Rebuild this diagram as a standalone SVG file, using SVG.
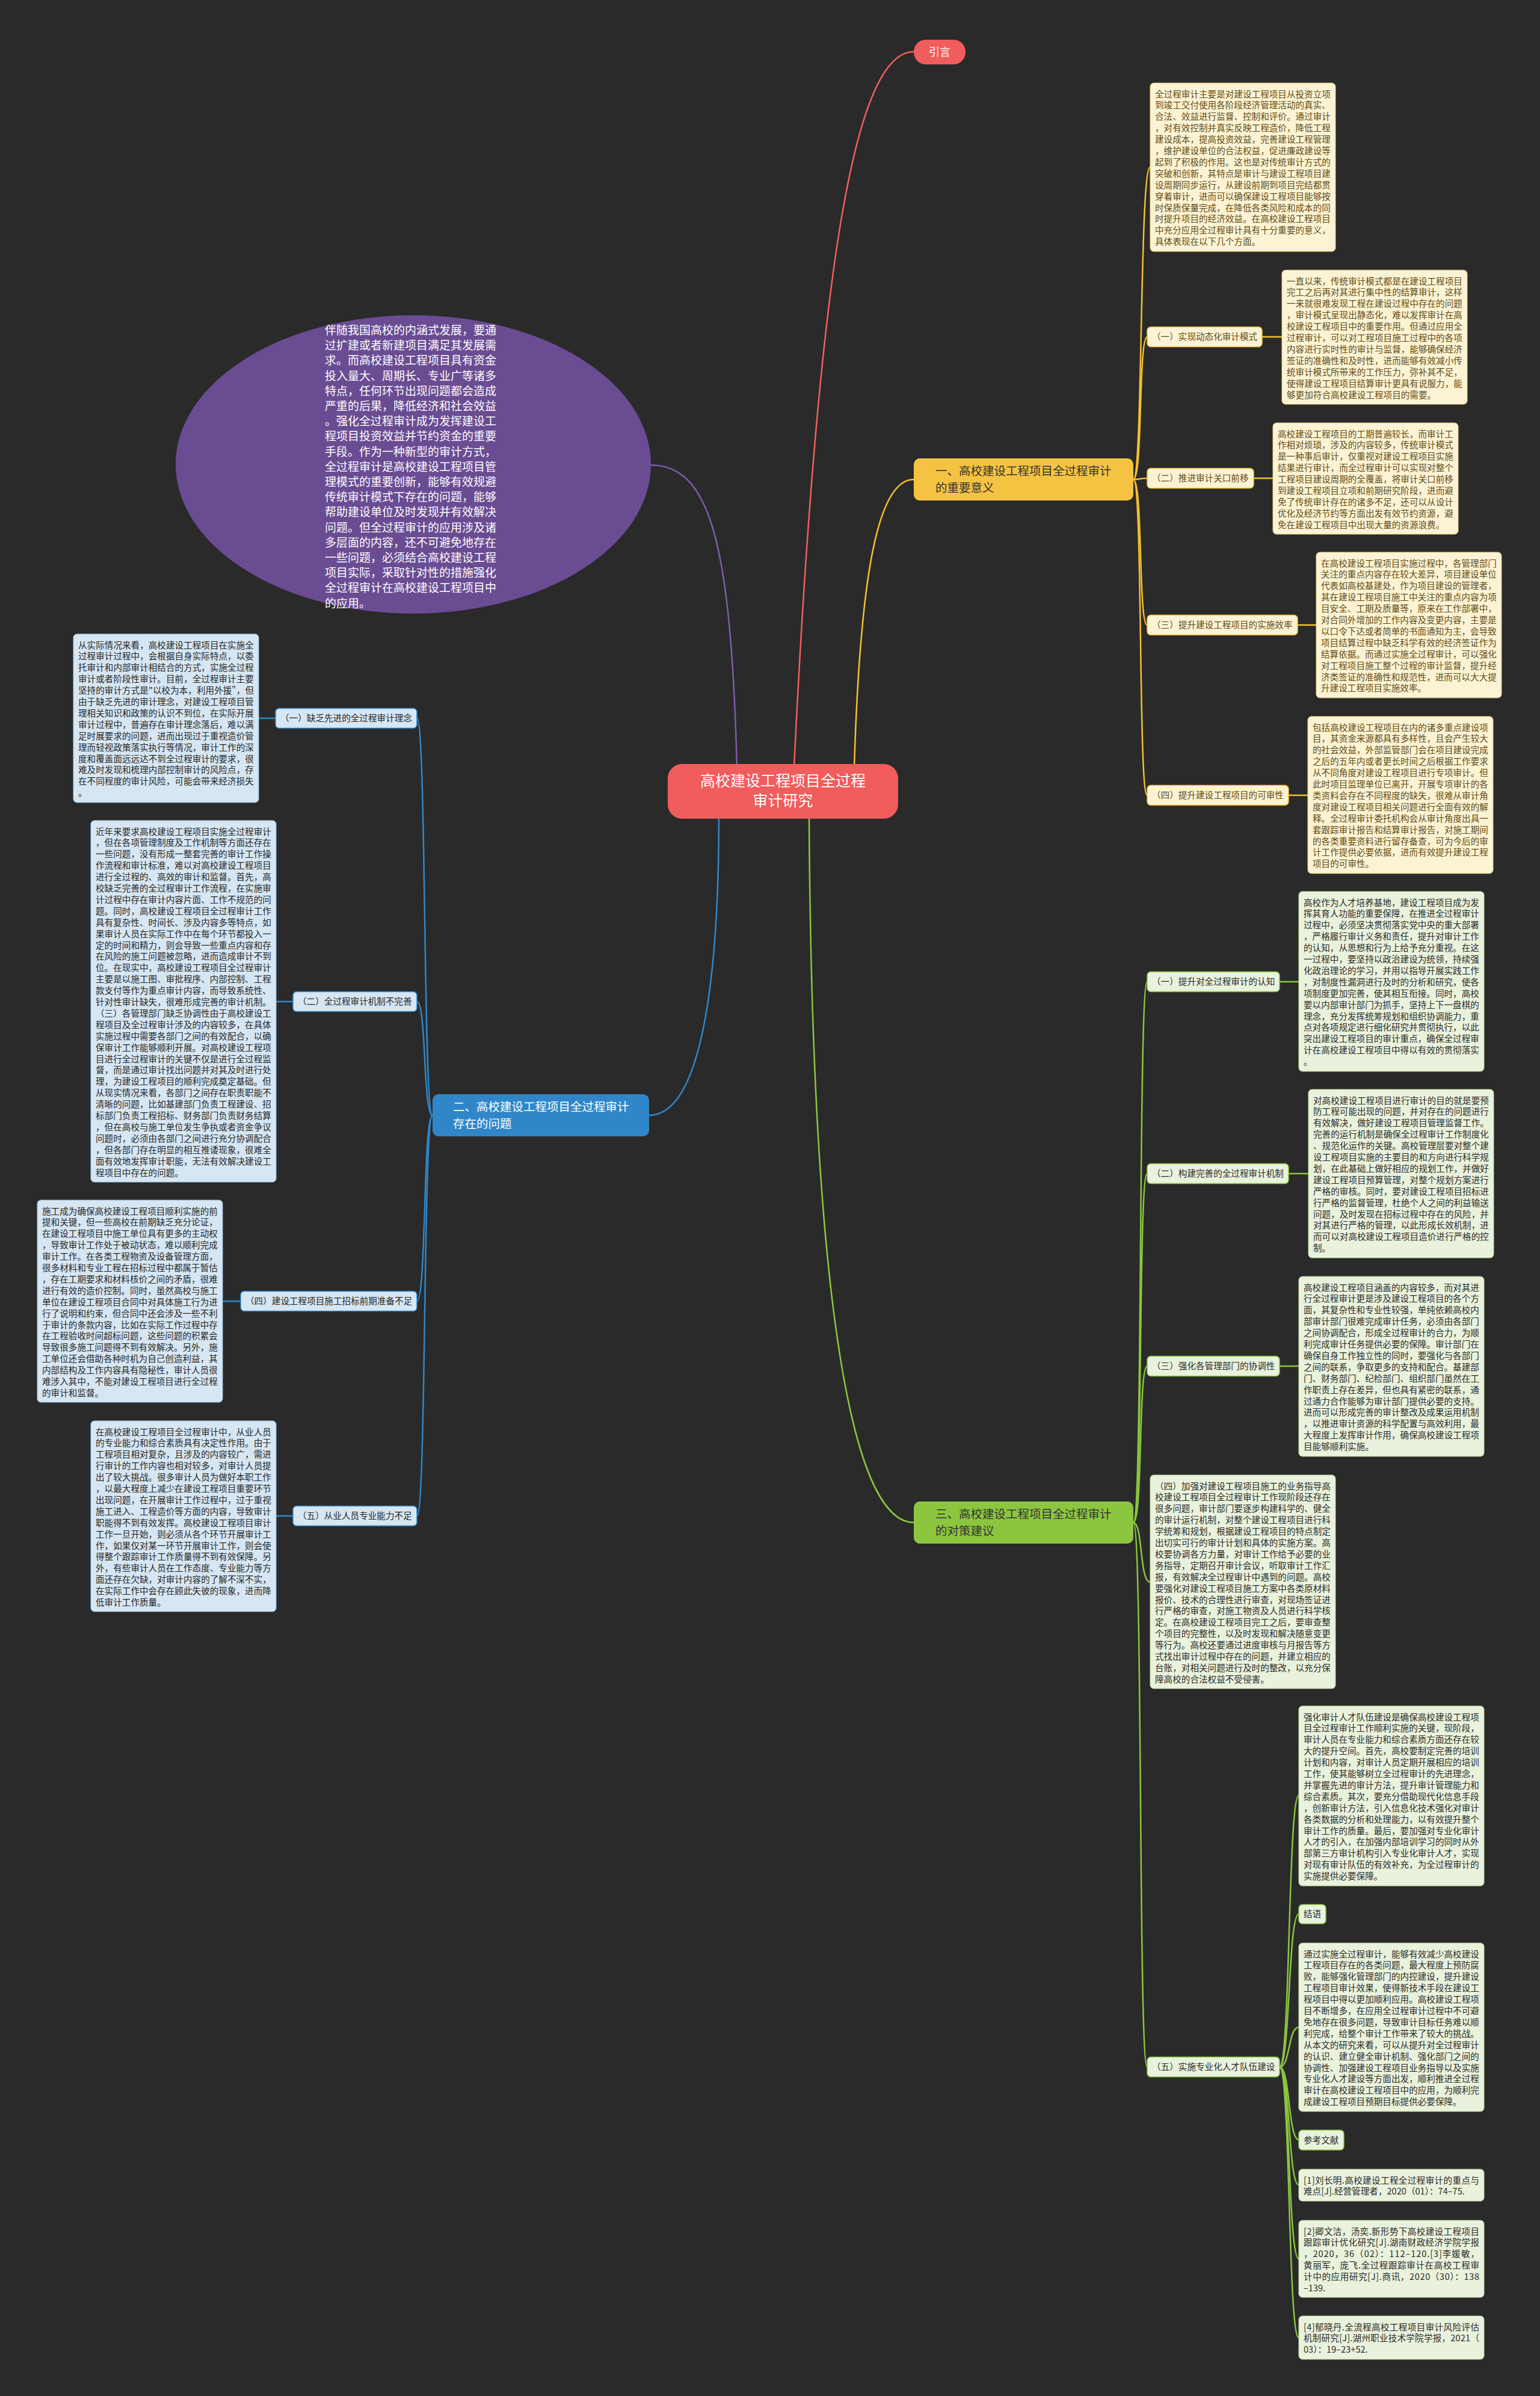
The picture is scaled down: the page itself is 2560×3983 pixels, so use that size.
<svg xmlns="http://www.w3.org/2000/svg" width="2560" height="3983" viewBox="0 0 2560 3983">
<style>
.tx{font-family:"Noto Sans CJK SC","Noto Sans",sans-serif;font-size:14.6px}
.t1{fill:#5f4b14}.t2{fill:#262626}.t3{fill:#2a2a2a}
.b1{fill:#fcf3d4;stroke:#e9cf7c;stroke-width:1}
.b2{fill:#d6e6f3;stroke:#9fc4e4;stroke-width:1}
.b3{fill:#e9f2dc;stroke:#bcd896;stroke-width:1}
.l1{fill:#fcf3d4;stroke:#f2c12e;stroke-width:1.5}
.l2{fill:#d6e6f3;stroke:#2f87c9;stroke-width:1.5}
.l3{fill:#e9f2dc;stroke:#8cc63f;stroke-width:1.5}
.br{font-family:"Noto Sans CJK SC","Noto Sans",sans-serif;font-size:19.5px}
.c{fill:none;stroke-width:2.5}
</style>
<rect width="2560" height="3983" fill="#2a2a2a"/>
<g id="connectors">
<path class="c" stroke="#f0605d" stroke-width="3" d="M1320 1275 C1360 450 1420 86 1519 86"/>
<path class="c" stroke="#f2c12e" stroke-width="3" d="M1420 1275 C1430 950 1460 797 1519 797"/>
<path class="c" stroke="#7d5ca8" stroke-width="3" d="M1081 773 C1180 773 1215 900 1225 1275"/>
<path class="c" stroke="#2f87c9" stroke-width="3" d="M1195 1355 C1195 1700 1150 1854 1079 1854"/>
<path class="c" stroke="#8cc63f" stroke-width="3" d="M1345 1355 C1350 2250 1430 2531 1519 2531"/>
<g stroke="#f2c12e">
<path class="c" d="M1884 797 C1900 797 1894 278 1912 278"/>
<path class="c" d="M1884 797 C1900 797 1892 560 1907 560"/>
<path class="c" d="M1884 797 C1898 797 1893 795 1907 795"/>
<path class="c" d="M1884 797 C1900 797 1892 1039 1907 1039"/>
<path class="c" d="M1884 797 C1900 797 1892 1322 1907 1322"/>
<path class="c" d="M2098 560 H2131 M2084 795 H2116 M2157 1039 H2188 M2142 1322 H2174"/>
</g>
<g stroke="#2f87c9">
<path class="c" d="M719 1854 C703 1854 709 1194 693 1194"/>
<path class="c" d="M719 1854 C703 1854 709 1665 693 1665"/>
<path class="c" d="M719 1854 C703 1854 709 2163 693 2163"/>
<path class="c" d="M719 1854 C703 1854 709 2520 693 2520"/>
<path class="c" d="M458 1194 H430 M487 1665 H459 M400 2163 H370 M487 2520 H459"/>
</g>
<g stroke="#8cc63f">
<path class="c" d="M1884 2531 C1900 2531 1892 1632 1907 1632"/>
<path class="c" d="M1884 2531 C1900 2531 1892 1951 1907 1951"/>
<path class="c" d="M1884 2531 C1900 2531 1892 2271 1907 2271"/>
<path class="c" d="M1884 2531 C1900 2531 1894 2630 1912 2630"/>
<path class="c" d="M1884 2531 C1900 2531 1892 3436 1907 3436"/>
<path class="c" d="M2127 1632 H2159 M2142 1951 H2175 M2127 2271 H2159"/>
<path class="c" d="M2127 3436 C2145 3436 2141 2985 2159 2985"/>
<path class="c" d="M2127 3436 C2145 3436 2141 3182 2159 3182"/>
<path class="c" d="M2127 3436 C2145 3436 2141 3370 2159 3370"/>
<path class="c" d="M2127 3436 C2145 3436 2141 3557 2159 3557"/>
<path class="c" d="M2127 3436 C2145 3436 2141 3632 2159 3632"/>
<path class="c" d="M2127 3436 C2145 3436 2141 3755 2159 3755"/>
<path class="c" d="M2127 3436 C2145 3436 2141 3886 2159 3886"/>
</g>
</g>

<g id="center">
<rect x="1110" y="1270" width="383" height="91" rx="24" fill="#f15c5c"/>
<text x="1301.5" y="1307" text-anchor="middle" font-family="Noto Sans CJK SC,Noto Sans,sans-serif" font-size="25" fill="#fff"><tspan x="1301.5">高校建设工程项目全过程</tspan><tspan x="1301.5" dy="33">审计研究</tspan></text>
</g>

<g id="intro">
<rect x="1519" y="66" width="86" height="41" rx="20" fill="#f15c5c"/>
<text x="1562" y="92.5" text-anchor="middle" font-family="Noto Sans CJK SC,Noto Sans,sans-serif" font-size="18" fill="#fff">引言</text>
</g>

<g id="preface">
<ellipse cx="687" cy="772" rx="395" ry="248" fill="#6a4c93"/>
<text x="540" y="556" font-family="Noto Sans CJK SC,Noto Sans,sans-serif" font-size="19" fill="#fff">
<tspan x="540">伴随我国高校的内涵式发展，要通</tspan>
<tspan x="540" dy="25.2">过扩建或者新建项目满足其发展需</tspan>
<tspan x="540" dy="25.2">求。而高校建设工程项目具有资金</tspan>
<tspan x="540" dy="25.2">投入量大、周期长、专业广等诸多</tspan>
<tspan x="540" dy="25.2">特点，任何环节出现问题都会造成</tspan>
<tspan x="540" dy="25.2">严重的后果，降低经济和社会效益</tspan>
<tspan x="540" dy="25.2">。强化全过程审计成为发挥建设工</tspan>
<tspan x="540" dy="25.2">程项目投资效益并节约资金的重要</tspan>
<tspan x="540" dy="25.2">手段。作为一种新型的审计方式，</tspan>
<tspan x="540" dy="25.2">全过程审计是高校建设工程项目管</tspan>
<tspan x="540" dy="25.2">理模式的重要创新，能够有效规避</tspan>
<tspan x="540" dy="25.2">传统审计模式下存在的问题，能够</tspan>
<tspan x="540" dy="25.2">帮助建设单位及时发现并有效解决</tspan>
<tspan x="540" dy="25.2">问题。但全过程审计的应用涉及诸</tspan>
<tspan x="540" dy="25.2">多层面的内容，还不可避免地存在</tspan>
<tspan x="540" dy="25.2">一些问题，必须结合高校建设工程</tspan>
<tspan x="540" dy="25.2">项目实际，采取针对性的措施强化</tspan>
<tspan x="540" dy="25.2">全过程审计在高校建设工程项目中</tspan>
<tspan x="540" dy="25.2">的应用。</tspan>
</text>
</g>

<!-- Section 1 -->
<g id="branch1">
<rect x="1519" y="762" width="365" height="70" rx="10" fill="#f5c342"/>
<text class="br" x="1555" y="790" fill="#333"><tspan x="1555">一、高校建设工程项目全过程审计</tspan><tspan x="1555" dy="28">的重要意义</tspan></text>
</g>
<g id="s1-intro">
<rect class="b1" x="1912" y="138" width="308" height="280" rx="6"/>
<text class="tx t1" x="1920" y="161.5">
<tspan x="1920">全过程审计主要是对建设工程项目从投资立项</tspan>
<tspan x="1920" dy="18.9">到竣工交付使用各阶段经济管理活动的真实、</tspan>
<tspan x="1920" dy="18.9">合法、效益进行监督、控制和评价。通过审计</tspan>
<tspan x="1920" dy="18.9">，对有效控制并真实反映工程造价，降低工程</tspan>
<tspan x="1920" dy="18.9">建设成本，提高投资效益，完善建设工程管理</tspan>
<tspan x="1920" dy="18.9">，维护建设单位的合法权益，促进廉政建设等</tspan>
<tspan x="1920" dy="18.9">起到了积极的作用。这也是对传统审计方式的</tspan>
<tspan x="1920" dy="18.9">突破和创新，其特点是审计与建设工程项目建</tspan>
<tspan x="1920" dy="18.9">设周期同步运行，从建设前期到项目完结都贯</tspan>
<tspan x="1920" dy="18.9">穿着审计，进而可以确保建设工程项目能够按</tspan>
<tspan x="1920" dy="18.9">时保质保量完成，在降低各类风险和成本的同</tspan>
<tspan x="1920" dy="18.9">时提升项目的经济效益。在高校建设工程项目</tspan>
<tspan x="1920" dy="18.9">中充分应用全过程审计具有十分重要的意义，</tspan>
<tspan x="1920" dy="18.9">具体表现在以下几个方面。</tspan>
</text>
</g>
<g id="s1-1">
<rect class="l1" x="1907" y="543.5" width="191" height="33" rx="6"/>
<text class="tx t1" x="1915" y="565.3">（一）实现动态化审计模式</text>
<rect class="b1" x="2131" y="449" width="308" height="223" rx="6"/>
<text class="tx t1" x="2139" y="472.5">
<tspan x="2139">一直以来，传统审计模式都是在建设工程项目</tspan>
<tspan x="2139" dy="18.9">完工之后再对其进行集中性的结算审计，这样</tspan>
<tspan x="2139" dy="18.9">一来就很难发现工程在建设过程中存在的问题</tspan>
<tspan x="2139" dy="18.9">，审计模式呈现出静态化，难以发挥审计在高</tspan>
<tspan x="2139" dy="18.9">校建设工程项目中的重要作用。但通过应用全</tspan>
<tspan x="2139" dy="18.9">过程审计，可以对工程项目施工过程中的各项</tspan>
<tspan x="2139" dy="18.9">内容进行实时性的审计与监督，能够确保经济</tspan>
<tspan x="2139" dy="18.9">签证的准确性和及时性，进而能够有效减小传</tspan>
<tspan x="2139" dy="18.9">统审计模式所带来的工作压力，弥补其不足，</tspan>
<tspan x="2139" dy="18.9">使得建设工程项目结算审计更具有说服力，能</tspan>
<tspan x="2139" dy="18.9">够更加符合高校建设工程项目的需要。</tspan>
</text>
</g>
<g id="s1-2">
<rect class="l1" x="1907" y="778.5" width="177" height="33" rx="6"/>
<text class="tx t1" x="1915" y="800.3">（二）推进审计关口前移</text>
<rect class="b1" x="2116" y="703" width="308" height="185" rx="6"/>
<text class="tx t1" x="2124" y="726.5">
<tspan x="2124">高校建设工程项目的工期普遍较长，而审计工</tspan>
<tspan x="2124" dy="18.9">作相对烦琐，涉及的内容较多，传统审计模式</tspan>
<tspan x="2124" dy="18.9">是一种事后审计，仅重视对建设工程项目实施</tspan>
<tspan x="2124" dy="18.9">结果进行审计，而全过程审计可以实现对整个</tspan>
<tspan x="2124" dy="18.9">工程项目建设周期的全覆盖，将审计关口前移</tspan>
<tspan x="2124" dy="18.9">到建设工程项目立项和前期研究阶段，进而避</tspan>
<tspan x="2124" dy="18.9">免了传统审计存在的诸多不足，还可以从设计</tspan>
<tspan x="2124" dy="18.9">优化及经济节约等方面出发有效节约资源，避</tspan>
<tspan x="2124" dy="18.9">免在建设工程项目中出现大量的资源浪费。</tspan>
</text>
</g>
<g id="s1-3">
<rect class="l1" x="1907" y="1022.5" width="250" height="33" rx="6"/>
<text class="tx t1" x="1915" y="1044.3">（三）提升建设工程项目的实施效率</text>
<rect class="b1" x="2188" y="918" width="308" height="242" rx="6"/>
<text class="tx t1" x="2196" y="941.5">
<tspan x="2196">在高校建设工程项目实施过程中，各管理部门</tspan>
<tspan x="2196" dy="18.9">关注的重点内容存在较大差异，项目建设单位</tspan>
<tspan x="2196" dy="18.9">代表如高校基建处，作为项目建设的管理者，</tspan>
<tspan x="2196" dy="18.9">其在建设工程项目施工中关注的重点内容为项</tspan>
<tspan x="2196" dy="18.9">目安全、工期及质量等，原来在工作部署中，</tspan>
<tspan x="2196" dy="18.9">对合同外增加的工作内容及变更内容，主要是</tspan>
<tspan x="2196" dy="18.9">以口令下达或者简单的书面通知为主，会导致</tspan>
<tspan x="2196" dy="18.9">项目结算过程中缺乏科学有效的经济签证作为</tspan>
<tspan x="2196" dy="18.9">结算依据。而通过实施全过程审计，可以强化</tspan>
<tspan x="2196" dy="18.9">对工程项目施工整个过程的审计监督，提升经</tspan>
<tspan x="2196" dy="18.9">济类签证的准确性和规范性，进而可以大大提</tspan>
<tspan x="2196" dy="18.9">升建设工程项目实施效率。</tspan>
</text>
</g>
<g id="s1-4">
<rect class="l1" x="1907" y="1305.5" width="235" height="33" rx="6"/>
<text class="tx t1" x="1915" y="1327.3">（四）提升建设工程项目的可审性</text>
<rect class="b1" x="2174" y="1191" width="308" height="261" rx="6"/>
<text class="tx t1" x="2182" y="1214.5">
<tspan x="2182">包括高校建设工程项目在内的诸多重点建设项</tspan>
<tspan x="2182" dy="18.9">目，其资金来源都具有多样性，且会产生较大</tspan>
<tspan x="2182" dy="18.9">的社会效益，外部监管部门会在项目建设完成</tspan>
<tspan x="2182" dy="18.9">之后的五年内或者更长时间之后根据工作要求</tspan>
<tspan x="2182" dy="18.9">从不同角度对建设工程项目进行专项审计。但</tspan>
<tspan x="2182" dy="18.9">此时项目监理单位已离开，开展专项审计的各</tspan>
<tspan x="2182" dy="18.9">类资料会存在不同程度的缺失，很难从审计角</tspan>
<tspan x="2182" dy="18.9">度对建设工程项目相关问题进行全面有效的解</tspan>
<tspan x="2182" dy="18.9">释。全过程审计委托机构会从审计角度出具一</tspan>
<tspan x="2182" dy="18.9">套跟踪审计报告和结算审计报告，对施工期间</tspan>
<tspan x="2182" dy="18.9">的各类重要资料进行留存备查，可为今后的审</tspan>
<tspan x="2182" dy="18.9">计工作提供必要依据，进而有效提升建设工程</tspan>
<tspan x="2182" dy="18.9">项目的可审性。</tspan>
</text>
</g>

<!-- Section 2 -->
<g id="branch2">
<rect x="719" y="1819" width="360" height="70" rx="10" fill="#2f87c9"/>
<text class="br" x="753" y="1847" fill="#fff"><tspan x="753">二、高校建设工程项目全过程审计</tspan><tspan x="753" dy="28">存在的问题</tspan></text>
</g>
<g id="s2-1">
<rect class="l2" x="458" y="1177.5" width="235" height="33" rx="6"/>
<text class="tx t2" x="466" y="1199.3">（一）缺乏先进的全过程审计理念</text>
<rect class="b2" x="122" y="1054" width="308" height="280" rx="6"/>
<text class="tx t2" x="130" y="1077.5">
<tspan x="130">从实际情况来看，高校建设工程项目在实施全</tspan>
<tspan x="130" dy="18.9">过程审计过程中，会根据自身实际特点，以委</tspan>
<tspan x="130" dy="18.9">托审计和内部审计相结合的方式，实施全过程</tspan>
<tspan x="130" dy="18.9">审计或者阶段性审计。目前，全过程审计主要</tspan>
<tspan x="130" dy="18.9" textLength="292">坚持的审计方式是"以校为本，利用外援”，但</tspan>
<tspan x="130" dy="18.9">由于缺乏先进的审计理念，对建设工程项目管</tspan>
<tspan x="130" dy="18.9">理相关知识和政策的认识不到位，在实际开展</tspan>
<tspan x="130" dy="18.9">审计过程中，普遍存在审计理念落后，难以满</tspan>
<tspan x="130" dy="18.9">足时展要求的问题，进而出现过于重视造价管</tspan>
<tspan x="130" dy="18.9">理而轻视政策落实执行等情况，审计工作的深</tspan>
<tspan x="130" dy="18.9">度和覆盖面远远达不到全过程审计的要求，很</tspan>
<tspan x="130" dy="18.9">难及时发现和梳理内部控制审计的风险点，存</tspan>
<tspan x="130" dy="18.9">在不同程度的审计风险，可能会带来经济损失</tspan>
<tspan x="130" dy="18.9">。</tspan>
</text>
</g>
<g id="s2-2">
<rect class="l2" x="487" y="1648.5" width="206" height="33" rx="6"/>
<text class="tx t2" x="495" y="1670.3">（二）全过程审计机制不完善</text>
<rect class="b2" x="151" y="1364" width="308" height="601" rx="6"/>
<text class="tx t2" x="159" y="1387.5">
<tspan x="159">近年来要求高校建设工程项目实施全过程审计</tspan>
<tspan x="159" dy="18.9">，但在各项管理制度及工作机制等方面还存在</tspan>
<tspan x="159" dy="18.9">一些问题，没有形成一整套完善的审计工作操</tspan>
<tspan x="159" dy="18.9">作流程和审计标准，难以对高校建设工程项目</tspan>
<tspan x="159" dy="18.9">进行全过程的、高效的审计和监督。首先，高</tspan>
<tspan x="159" dy="18.9">校缺乏完善的全过程审计工作流程，在实施审</tspan>
<tspan x="159" dy="18.9">计过程中存在审计内容片面、工作不规范的问</tspan>
<tspan x="159" dy="18.9">题。同时，高校建设工程项目全过程审计工作</tspan>
<tspan x="159" dy="18.9">具有复杂性、时间长、涉及内容多等特点，如</tspan>
<tspan x="159" dy="18.9">果审计人员在实际工作中在每个环节都投入一</tspan>
<tspan x="159" dy="18.9">定的时间和精力，则会导致一些重点内容和存</tspan>
<tspan x="159" dy="18.9">在风险的施工问题被忽略，进而造成审计不到</tspan>
<tspan x="159" dy="18.9">位。在现实中，高校建设工程项目全过程审计</tspan>
<tspan x="159" dy="18.9">主要是以施工图、审批程序、内部控制、工程</tspan>
<tspan x="159" dy="18.9">款支付等作为重点审计内容，而导致系统性、</tspan>
<tspan x="159" dy="18.9">针对性审计缺失，很难形成完善的审计机制。</tspan>
<tspan x="159" dy="18.9">（三）各管理部门缺乏协调性由于高校建设工</tspan>
<tspan x="159" dy="18.9">程项目及全过程审计涉及的内容较多，在具体</tspan>
<tspan x="159" dy="18.9">实施过程中需要各部门之间的有效配合，以确</tspan>
<tspan x="159" dy="18.9">保审计工作能够顺利开展。对高校建设工程项</tspan>
<tspan x="159" dy="18.9">目进行全过程审计的关键不仅是进行全过程监</tspan>
<tspan x="159" dy="18.9">督，而是通过审计找出问题并对其及时进行处</tspan>
<tspan x="159" dy="18.9">理，为建设工程项目的顺利完成奠定基础。但</tspan>
<tspan x="159" dy="18.9">从现实情况来看，各部门之间存在职责职能不</tspan>
<tspan x="159" dy="18.9">清晰的问题，比如基建部门负责工程建设、招</tspan>
<tspan x="159" dy="18.9">标部门负责工程招标、财务部门负责财务结算</tspan>
<tspan x="159" dy="18.9">，但在高校与施工单位发生争执或者资金争议</tspan>
<tspan x="159" dy="18.9">问题时，必须由各部门之间进行充分协调配合</tspan>
<tspan x="159" dy="18.9">，但各部门存在明显的相互推诿现象，很难全</tspan>
<tspan x="159" dy="18.9">面有效地发挥审计职能，无法有效解决建设工</tspan>
<tspan x="159" dy="18.9">程项目中存在的问题。</tspan>
</text>
</g>
<g id="s2-4">
<rect class="l2" x="400" y="2146.5" width="293" height="33" rx="6"/>
<text class="tx t2" x="408" y="2168.3">（四）建设工程项目施工招标前期准备不足</text>
<rect class="b2" x="62" y="1995" width="308" height="336" rx="6"/>
<text class="tx t2" x="70" y="2018.5">
<tspan x="70">施工成为确保高校建设工程项目顺利实施的前</tspan>
<tspan x="70" dy="18.9">提和关键，但一些高校在前期缺乏充分论证，</tspan>
<tspan x="70" dy="18.9">在建设工程项目中施工单位具有更多的主动权</tspan>
<tspan x="70" dy="18.9">，导致审计工作处于被动状态，难以顺利完成</tspan>
<tspan x="70" dy="18.9">审计工作。在各类工程物资及设备管理方面，</tspan>
<tspan x="70" dy="18.9">很多材料和专业工程在招标过程中都属于暂估</tspan>
<tspan x="70" dy="18.9">，存在工期要求和材料核价之间的矛盾，很难</tspan>
<tspan x="70" dy="18.9">进行有效的造价控制。同时，虽然高校与施工</tspan>
<tspan x="70" dy="18.9">单位在建设工程项目合同中对具体施工行为进</tspan>
<tspan x="70" dy="18.9">行了说明和约束，但合同中还会涉及一些不利</tspan>
<tspan x="70" dy="18.9">于审计的条款内容，比如在实际工作过程中存</tspan>
<tspan x="70" dy="18.9">在工程验收时间超标问题，这些问题的积累会</tspan>
<tspan x="70" dy="18.9">导致很多施工问题得不到有效解决。另外，施</tspan>
<tspan x="70" dy="18.9">工单位还会借助各种时机为自己创造利益，其</tspan>
<tspan x="70" dy="18.9">内部结构及工作内容具有隐秘性，审计人员很</tspan>
<tspan x="70" dy="18.9">难涉入其中，不能对建设工程项目进行全过程</tspan>
<tspan x="70" dy="18.9">的审计和监督。</tspan>
</text>
</g>
<g id="s2-5">
<rect class="l2" x="487" y="2503.5" width="206" height="33" rx="6"/>
<text class="tx t2" x="495" y="2525.3">（五）从业人员专业能力不足</text>
<rect class="b2" x="151" y="2362" width="308" height="317" rx="6"/>
<text class="tx t2" x="159" y="2385.5">
<tspan x="159">在高校建设工程项目全过程审计中，从业人员</tspan>
<tspan x="159" dy="18.9">的专业能力和综合素质具有决定性作用。由于</tspan>
<tspan x="159" dy="18.9">工程项目相对复杂，且涉及的内容较广，需进</tspan>
<tspan x="159" dy="18.9">行审计的工作内容也相对较多，对审计人员提</tspan>
<tspan x="159" dy="18.9">出了较大挑战。很多审计人员为做好本职工作</tspan>
<tspan x="159" dy="18.9">，以最大程度上减少在建设工程项目重要环节</tspan>
<tspan x="159" dy="18.9">出现问题，在开展审计工作过程中，过于重视</tspan>
<tspan x="159" dy="18.9">施工进入、工程造价等方面的内容，导致审计</tspan>
<tspan x="159" dy="18.9">职能得不到有效发挥。高校建设工程项目审计</tspan>
<tspan x="159" dy="18.9">工作一旦开始，则必须从各个环节开展审计工</tspan>
<tspan x="159" dy="18.9">作，如果仅对某一环节开展审计工作，则会使</tspan>
<tspan x="159" dy="18.9">得整个跟踪审计工作质量得不到有效保障。另</tspan>
<tspan x="159" dy="18.9">外，有些审计人员在工作态度、专业能力等方</tspan>
<tspan x="159" dy="18.9">面还存在欠缺，对审计内容的了解不深不实，</tspan>
<tspan x="159" dy="18.9">在实际工作中会存在顾此失彼的现象，进而降</tspan>
<tspan x="159" dy="18.9">低审计工作质量。</tspan>
</text>
</g>

<!-- Section 3 -->
<g id="branch3">
<rect x="1519" y="2496" width="365" height="70" rx="10" fill="#8cc63f"/>
<text class="br" x="1555" y="2524" fill="#333"><tspan x="1555">三、高校建设工程项目全过程审计</tspan><tspan x="1555" dy="28">的对策建议</tspan></text>
</g>
<g id="s3-1">
<rect class="l3" x="1907" y="1615.5" width="220" height="33" rx="6"/>
<text class="tx t3" x="1915" y="1637.3">（一）提升对全过程审计的认知</text>
<rect class="b3" x="2159" y="1482" width="308" height="299" rx="6"/>
<text class="tx t3" x="2167" y="1505.5">
<tspan x="2167">高校作为人才培养基地，建设工程项目成为发</tspan>
<tspan x="2167" dy="18.9">挥其育人功能的重要保障，在推进全过程审计</tspan>
<tspan x="2167" dy="18.9">过程中，必须坚决贯彻落实党中央的重大部署</tspan>
<tspan x="2167" dy="18.9">，严格履行审计义务和责任，提升对审计工作</tspan>
<tspan x="2167" dy="18.9">的认知，从思想和行为上给予充分重视。在这</tspan>
<tspan x="2167" dy="18.9">一过程中，要坚持以政治建设为统领，持续强</tspan>
<tspan x="2167" dy="18.9">化政治理论的学习，并用以指导开展实践工作</tspan>
<tspan x="2167" dy="18.9">，对制度性漏洞进行及时的分析和研究，使各</tspan>
<tspan x="2167" dy="18.9">项制度更加完善，使其相互衔接。同时，高校</tspan>
<tspan x="2167" dy="18.9">要以内部审计部门为抓手，坚持上下一盘棋的</tspan>
<tspan x="2167" dy="18.9">理念，充分发挥统筹规划和组织协调能力，重</tspan>
<tspan x="2167" dy="18.9">点对各项规定进行细化研究并贯彻执行，以此</tspan>
<tspan x="2167" dy="18.9">突出建设工程项目的审计重点，确保全过程审</tspan>
<tspan x="2167" dy="18.9">计在高校建设工程项目中得以有效的贯彻落实</tspan>
<tspan x="2167" dy="18.9">。</tspan>
</text>
</g>
<g id="s3-2">
<rect class="l3" x="1907" y="1934.5" width="235" height="33" rx="6"/>
<text class="tx t3" x="1915" y="1956.3">（二）构建完善的全过程审计机制</text>
<rect class="b3" x="2175" y="1811" width="308" height="280" rx="6"/>
<text class="tx t3" x="2183" y="1834.5">
<tspan x="2183">对高校建设工程项目进行审计的目的就是要预</tspan>
<tspan x="2183" dy="18.9">防工程可能出现的问题，并对存在的问题进行</tspan>
<tspan x="2183" dy="18.9">有效解决，做好建设工程项目管理监督工作。</tspan>
<tspan x="2183" dy="18.9">完善的运行机制是确保全过程审计工作制度化</tspan>
<tspan x="2183" dy="18.9">、规范化运作的关键。高校管理层要对整个建</tspan>
<tspan x="2183" dy="18.9">设工程项目实施的主要目的和方向进行科学规</tspan>
<tspan x="2183" dy="18.9">划，在此基础上做好相应的规划工作，并做好</tspan>
<tspan x="2183" dy="18.9">建设工程项目预算管理，对整个规划方案进行</tspan>
<tspan x="2183" dy="18.9">严格的审核。同时，要对建设工程项目招标进</tspan>
<tspan x="2183" dy="18.9">行严格的监督管理，杜绝个人之间的利益输送</tspan>
<tspan x="2183" dy="18.9">问题，及时发现在招标过程中存在的风险，并</tspan>
<tspan x="2183" dy="18.9">对其进行严格的管理，以此形成长效机制，进</tspan>
<tspan x="2183" dy="18.9">而可以对高校建设工程项目造价进行严格的控</tspan>
<tspan x="2183" dy="18.9">制。</tspan>
</text>
</g>
<g id="s3-3">
<rect class="l3" x="1907" y="2254.5" width="220" height="33" rx="6"/>
<text class="tx t3" x="1915" y="2276.3">（三）强化各管理部门的协调性</text>
<rect class="b3" x="2159" y="2122" width="308" height="299" rx="6"/>
<text class="tx t3" x="2167" y="2145.5">
<tspan x="2167">高校建设工程项目涵盖的内容较多，而对其进</tspan>
<tspan x="2167" dy="18.9">行全过程审计更是涉及建设工程项目的各个方</tspan>
<tspan x="2167" dy="18.9">面，其复杂性和专业性较强，单纯依赖高校内</tspan>
<tspan x="2167" dy="18.9">部审计部门很难完成审计任务，必须由各部门</tspan>
<tspan x="2167" dy="18.9">之间协调配合，形成全过程审计的合力，为顺</tspan>
<tspan x="2167" dy="18.9">利完成审计任务提供必要的保障。审计部门在</tspan>
<tspan x="2167" dy="18.9">确保自身工作独立性的同时，要强化与各部门</tspan>
<tspan x="2167" dy="18.9">之间的联系，争取更多的支持和配合。基建部</tspan>
<tspan x="2167" dy="18.9">门、财务部门、纪检部门、组织部门虽然在工</tspan>
<tspan x="2167" dy="18.9">作职责上存在差异，但也具有紧密的联系，通</tspan>
<tspan x="2167" dy="18.9">过通力合作能够为审计部门提供必要的支持。</tspan>
<tspan x="2167" dy="18.9">进而可以形成完善的审计整改及成果运用机制</tspan>
<tspan x="2167" dy="18.9">，以推进审计资源的科学配置与高效利用，最</tspan>
<tspan x="2167" dy="18.9">大程度上发挥审计作用，确保高校建设工程项</tspan>
<tspan x="2167" dy="18.9">目能够顺利实施。</tspan>
</text>
</g>
<g id="s3-4">
<rect class="b3" x="1912" y="2452" width="308" height="355" rx="6"/>
<text class="tx t3" x="1920" y="2475.5">
<tspan x="1920">（四）加强对建设工程项目施工的业务指导高</tspan>
<tspan x="1920" dy="18.9">校建设工程项目全过程审计工作现阶段还存在</tspan>
<tspan x="1920" dy="18.9">很多问题，审计部门要逐步构建科学的、健全</tspan>
<tspan x="1920" dy="18.9">的审计运行机制，对整个建设工程项目进行科</tspan>
<tspan x="1920" dy="18.9">学统筹和规划，根据建设工程项目的特点制定</tspan>
<tspan x="1920" dy="18.9">出切实可行的审计计划和具体的实施方案。高</tspan>
<tspan x="1920" dy="18.9">校要协调各方力量，对审计工作给予必要的业</tspan>
<tspan x="1920" dy="18.9">务指导，定期召开审计会议，听取审计工作汇</tspan>
<tspan x="1920" dy="18.9">报，有效解决全过程审计中遇到的问题。高校</tspan>
<tspan x="1920" dy="18.9">要强化对建设工程项目施工方案中各类原材料</tspan>
<tspan x="1920" dy="18.9">报价、技术的合理性进行审查，对现场签证进</tspan>
<tspan x="1920" dy="18.9">行严格的审查，对施工物资及人员进行科学核</tspan>
<tspan x="1920" dy="18.9">定。在高校建设工程项目完工之后，要审查整</tspan>
<tspan x="1920" dy="18.9">个项目的完整性，以及时发现和解决随意变更</tspan>
<tspan x="1920" dy="18.9">等行为。高校还要通过进度审核与月报告等方</tspan>
<tspan x="1920" dy="18.9">式找出审计过程中存在的问题，并建立相应的</tspan>
<tspan x="1920" dy="18.9">台账，对相关问题进行及时的整改，以充分保</tspan>
<tspan x="1920" dy="18.9">障高校的合法权益不受侵害。</tspan>
</text>
</g>
<g id="s3-5">
<rect class="l3" x="1907" y="3419.5" width="220" height="33" rx="6"/>
<text class="tx t3" x="1915" y="3441.3">（五）实施专业化人才队伍建设</text>
</g>
<g id="s3-5a">
<rect class="b3" x="2159" y="2836" width="308" height="299" rx="6"/>
<text class="tx t3" x="2167" y="2859.5">
<tspan x="2167">强化审计人才队伍建设是确保高校建设工程项</tspan>
<tspan x="2167" dy="18.9">目全过程审计工作顺利实施的关键，现阶段，</tspan>
<tspan x="2167" dy="18.9">审计人员在专业能力和综合素质方面还存在较</tspan>
<tspan x="2167" dy="18.9">大的提升空间。首先，高校要制定完善的培训</tspan>
<tspan x="2167" dy="18.9">计划和内容，对审计人员定期开展相应的培训</tspan>
<tspan x="2167" dy="18.9">工作，使其能够树立全过程审计的先进理念，</tspan>
<tspan x="2167" dy="18.9">并掌握先进的审计方法，提升审计管理能力和</tspan>
<tspan x="2167" dy="18.9">综合素质。其次，要充分借助现代化信息手段</tspan>
<tspan x="2167" dy="18.9">，创新审计方法，引入信息化技术强化对审计</tspan>
<tspan x="2167" dy="18.9">各类数据的分析和处理能力，以有效提升整个</tspan>
<tspan x="2167" dy="18.9">审计工作的质量。最后，要加强对专业化审计</tspan>
<tspan x="2167" dy="18.9">人才的引入，在加强内部培训学习的同时从外</tspan>
<tspan x="2167" dy="18.9">部第三方审计机构引入专业化审计人才，实现</tspan>
<tspan x="2167" dy="18.9">对现有审计队伍的有效补充，为全过程审计的</tspan>
<tspan x="2167" dy="18.9">实施提供必要保障。</tspan>
</text>
</g>
<g id="s3-5b">
<rect class="l3" x="2159" y="3166" width="45" height="32" rx="6"/>
<text class="tx t3" x="2167" y="3187.3">结语</text>
</g>
<g id="s3-5c">
<rect class="b3" x="2159" y="3230" width="308" height="280" rx="6"/>
<text class="tx t3" x="2167" y="3253.5">
<tspan x="2167">通过实施全过程审计，能够有效减少高校建设</tspan>
<tspan x="2167" dy="18.9">工程项目存在的各类问题，最大程度上预防腐</tspan>
<tspan x="2167" dy="18.9">败，能够强化管理部门的内控建设，提升建设</tspan>
<tspan x="2167" dy="18.9">工程项目审计效果，使得新技术手段在建设工</tspan>
<tspan x="2167" dy="18.9">程项目中得以更加顺利应用。高校建设工程项</tspan>
<tspan x="2167" dy="18.9">目不断增多，在应用全过程审计过程中不可避</tspan>
<tspan x="2167" dy="18.9">免地存在很多问题，导致审计目标任务难以顺</tspan>
<tspan x="2167" dy="18.9">利完成，给整个审计工作带来了较大的挑战。</tspan>
<tspan x="2167" dy="18.9">从本文的研究来看，可以从提升对全过程审计</tspan>
<tspan x="2167" dy="18.9">的认识、建立健全审计机制、强化部门之间的</tspan>
<tspan x="2167" dy="18.9">协调性、加强建设工程项目业务指导以及实施</tspan>
<tspan x="2167" dy="18.9">专业化人才建设等方面出发，顺利推进全过程</tspan>
<tspan x="2167" dy="18.9">审计在高校建设工程项目中的应用，为顺利完</tspan>
<tspan x="2167" dy="18.9">成建设工程项目预期目标提供必要保障。</tspan>
</text>
</g>
<g id="s3-5d">
<rect class="l3" x="2159" y="3541" width="75" height="33" rx="6"/>
<text class="tx t3" x="2167" y="3562.8">参考文献</text>
</g>
<g id="ref1">
<rect class="b3" x="2159" y="3606" width="308" height="53" rx="6"/>
<text class="tx t3" x="2167" y="3629.5">
<tspan x="2167" textLength="292">[1]刘长明.高校建设工程全过程审计的重点与</tspan>
<tspan x="2167" dy="18.9">难点[J].经营管理者，2020（01）：74–75.</tspan>
</text>
</g>
<g id="ref2">
<rect class="b3" x="2159" y="3691" width="308" height="128" rx="6"/>
<text class="tx t3" x="2167" y="3714.5">
<tspan x="2167" textLength="292">[2]卿文洁，汤奕.新形势下高校建设工程项目</tspan>
<tspan x="2167" dy="18.9" textLength="292">跟踪审计优化研究[J].湖南财政经济学院学报</tspan>
<tspan x="2167" dy="18.9" textLength="292">，2020，36（02）：112–120.[3]李媛敏，</tspan>
<tspan x="2167" dy="18.9" textLength="292">黄丽军，庞飞.全过程跟踪审计在高校工程审</tspan>
<tspan x="2167" dy="18.9" textLength="292">计中的应用研究[J].商讯，2020（30）：138</tspan>
<tspan x="2167" dy="18.9">–139.</tspan>
</text>
</g>
<g id="ref4">
<rect class="b3" x="2159" y="3850" width="308" height="72" rx="6"/>
<text class="tx t3" x="2167" y="3873.5">
<tspan x="2167" textLength="292">[4]郁晓丹.全流程高校工程项目审计风险评估</tspan>
<tspan x="2167" dy="18.9" textLength="292">机制研究[J].湖州职业技术学院学报，2021（</tspan>
<tspan x="2167" dy="18.9">03）：19–23+52.</tspan>
</text>
</g>
</svg>
